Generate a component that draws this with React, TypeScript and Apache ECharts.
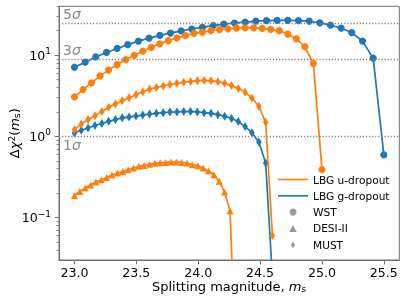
import React, { useEffect, useRef } from 'react';
import * as echarts from 'echarts';

// Splitting magnitudes (x) for each survey grid
const magWSTu = [23.000, 23.069, 23.138, 23.207, 23.276, 23.345, 23.414, 23.483, 23.552, 23.621, 23.690, 23.759, 23.828, 23.897, 23.966, 24.034, 24.103, 24.172, 24.241, 24.310, 24.379, 24.448, 24.517, 24.586, 24.655, 24.724, 24.793, 24.862, 24.931, 25.000];
const magWSTg = [23.000, 23.086, 23.172, 23.259, 23.345, 23.431, 23.517, 23.603, 23.690, 23.776, 23.862, 23.948, 24.034, 24.121, 24.207, 24.293, 24.379, 24.466, 24.552, 24.638, 24.724, 24.810, 24.897, 24.983, 25.069, 25.155, 25.241, 25.328, 25.414, 25.500];
const magDESIu = [23.000, 23.043, 23.087, 23.130, 23.173, 23.217, 23.260, 23.303, 23.347, 23.390, 23.433, 23.477, 23.520, 23.563, 23.607, 23.650, 23.693, 23.737, 23.780, 23.823, 23.867, 23.910, 23.953, 23.997, 24.040, 24.083, 24.127, 24.170, 24.213, 24.257, 24.300];
const magMUST = [23.000, 23.055, 23.110, 23.166, 23.221, 23.276, 23.331, 23.386, 23.441, 23.497, 23.552, 23.607, 23.662, 23.717, 23.772, 23.828, 23.883, 23.938, 23.993, 24.048, 24.103, 24.159, 24.214, 24.269, 24.324, 24.379, 24.434, 24.490, 24.545, 24.600];

// Delta chi^2 values
const chi2WSTu = [3.06, 3.77, 4.55, 5.55, 6.55, 7.66, 8.83, 9.97, 11.2, 12.5, 13.8, 15.1, 16.3, 17.4, 18.6, 19.2, 20.1, 20.7, 21.1, 21.5, 21.7, 21.7, 21.4, 20.8, 20.0, 18.2, 15.9, 12.7, 7.9, 0.39];
const chi2WSTg = [7.1, 8.2, 9.5, 10.8, 12.1, 13.5, 14.9, 16.2, 17.5, 18.7, 19.9, 21.0, 22.0, 23.1, 24.1, 24.9, 25.6, 26.2, 26.6, 26.9, 26.9, 26.7, 26.2, 25.0, 23.4, 21.6, 18.9, 14.9, 9.2, 0.59];
const chi2DESIu = [0.187, 0.210, 0.231, 0.252, 0.274, 0.292, 0.312, 0.334, 0.354, 0.370, 0.388, 0.407, 0.427, 0.439, 0.452, 0.465, 0.474, 0.478, 0.483, 0.483, 0.478, 0.470, 0.448, 0.436, 0.407, 0.378, 0.337, 0.279, 0.206, 0.121, 0.0025];
const chi2MUSTu = [1.21, 1.42, 1.61, 1.80, 2.03, 2.28, 2.51, 2.75, 3.0, 3.25, 3.55, 3.8, 4.0, 4.18, 4.35, 4.5, 4.65, 4.75, 4.85, 4.88, 4.85, 4.72, 4.5, 4.22, 3.9, 3.5, 2.97, 2.35, 1.49, 0.06];
const chi2MUSTg = [1.10, 1.19, 1.27, 1.36, 1.44, 1.53, 1.61, 1.69, 1.73, 1.78, 1.83, 1.88, 1.92, 1.96, 1.99, 2.0, 2.02, 2.02, 2.0, 1.96, 1.92, 1.85, 1.77, 1.66, 1.52, 1.32, 1.11, 0.85, 0.47, 0.018];

// Axis ticks
const xTicks = [23.0, 23.5, 24.0, 24.5, 25.0, 25.5];
const yMajorTicks = [0.1, 1, 10];
const yMinorTicks = [0.04, 0.05, 0.06, 0.07, 0.08, 0.09, 0.2, 0.3, 0.4, 0.5, 0.6, 0.7, 0.8, 0.9, 2, 3, 4, 5, 6, 7, 8, 9, 20, 30, 40];

// Significance levels
const sigmaLevels = [1, 9, 25];
const sigmaNames = ['1', '3', '5'];

// Legend entries
const legendLines = ['LBG u-dropout', 'LBG g-dropout'];
const legendMarkers = ['WST', 'DESI-II', 'MUST'];

const FONT = "'DejaVu Sans', sans-serif";
const ORANGE = '#ff7f0e';
const BLUE = '#1f77b4';
const GRAY = '#808080';
const SPINE = '#707070';

function pair(xs: number[], ys: number[]) {
  return xs.map((x, i) => [x, ys[i]]);
}

function dataSeries(name: string, xs: number[], ys: number[], color: string, symbol: string, symbolSize: any, z: number, extra: any = {}) {
  return {
    type: 'line',
    name,
    data: pair(xs, ys),
    xAxisIndex: 0,
    yAxisIndex: 0,
    symbol,
    symbolSize,
    showSymbol: true,
    showAllSymbol: true,
    clip: true,
    silent: true,
    z,
    itemStyle: { color, borderWidth: 0 },
    lineStyle: { color, width: 1.7 },
    emphasis: { disabled: true },
    ...extra,
  };
}

export default function App() {
  const ref = useRef<HTMLDivElement>(null);
  useEffect(() => {
    const chart = echarts.init(ref.current!, null, { renderer: 'svg' });
    const black = '#000';
    const supStyle = { fontSize: 9, fontFamily: FONT, color: black, padding: [0, 0, 8, 0] };
    const supNameStyle = { fontSize: 9, fontFamily: FONT, color: black, padding: [0, 0, 6, 0] };
    const subStyle = { fontSize: 9.5, fontFamily: FONT, color: black, padding: [4, 0, 0, 0] };
    const italStyle = { fontSize: 13, fontFamily: FONT, color: black, fontStyle: 'italic' };

    const markLine = {
      silent: true,
      symbol: ['none', 'none'],
      lineStyle: { color: GRAY, type: [1.2, 1.9], width: 1.3 },
      label: {
        show: true,
        position: 'insideStartTop',
        distance: [4, 2],
        formatter: (p: any) => `{n|${p.name}}{s|σ}`,
        rich: {
          n: { fontSize: 14, fontFamily: FONT, color: '#8a8a8a' },
          s: { fontSize: 14, fontFamily: FONT, color: '#8a8a8a', fontStyle: 'italic' },
        },
      },
      emphasis: { disabled: true },
      data: sigmaLevels.map((v, i) => ({
        yAxis: v,
        name: sigmaNames[i],
        label: i === 0 ? { position: 'insideStartBottom' } : {},
      })),
    };

    const series: any[] = [
      dataSeries('g WST', magWSTg, chi2WSTg, BLUE, 'circle', 7.2, 2, { markLine }),
      dataSeries('u WST', magWSTu, chi2WSTu, ORANGE, 'circle', 7.2, 3),
      dataSeries('u DESI-II', magDESIu, chi2DESIu, ORANGE, 'triangle', 7, 3),
      dataSeries('g MUST', magMUST, chi2MUSTg, BLUE, 'diamond', [5.5, 9], 2),
      dataSeries('u MUST', magMUST, chi2MUSTu, ORANGE, 'diamond', [5.5, 9], 3),
      { type: 'line', name: legendLines[0], data: [], itemStyle: { color: ORANGE }, lineStyle: { color: ORANGE } },
      { type: 'line', name: legendLines[1], data: [], itemStyle: { color: BLUE }, lineStyle: { color: BLUE } },
      { type: 'scatter', name: legendMarkers[0], data: [], itemStyle: { color: GRAY } },
      { type: 'scatter', name: legendMarkers[1], data: [], itemStyle: { color: GRAY } },
      { type: 'scatter', name: legendMarkers[2], data: [], itemStyle: { color: GRAY } },
    ];

    const lineIcon = 'path://M0,0H30V1.6H0Z';
    const markerIcons = ['circle', 'path://M4,0L8,7.5L0,7.5Z', 'path://M3,0L6,5L3,10L0,5Z'];

    const option: any = {
      animation: false,
      textStyle: { fontFamily: FONT },
      grid: {
        left: 59,
        right: 7.7,
        top: 6.3,
        bottom: 42,
        show: true,
        borderColor: SPINE,
        borderWidth: 1,
        backgroundColor: 'transparent',
        containLabel: false,
        outerBoundsMode: 'none',
      },
      legend: {
        orient: 'vertical',
        left: 273,
        top: 169,
        itemWidth: 30,
        itemHeight: 7,
        itemGap: 5.3,
        symbolKeepAspect: true,
        selectedMode: false,
        textStyle: { fontSize: 10.6, fontFamily: FONT, color: black },
        data: [
          ...legendLines.map((n) => ({ name: n, icon: lineIcon })),
          ...legendMarkers.map((n, i) => ({ name: n, icon: markerIcons[i] })),
        ],
      },
      xAxis: {
        type: 'value',
        min: 22.875,
        max: 25.625,
        axisLine: { show: true, lineStyle: { color: SPINE, width: 1 } },
        axisTick: { show: true, customValues: xTicks, length: 4.4, lineStyle: { color: SPINE, width: 1 } },
        axisLabel: {
          customValues: xTicks,
          formatter: (v: number) => v.toFixed(1),
          color: black,
          fontSize: 12.6,
          fontFamily: FONT,
          margin: 6,
        },
        splitLine: { show: false },
        name: 'Splitting magnitude, {i|m}{sub|s}',
        nameLocation: 'middle',
        nameGap: 19,
        nameMoveOverlap: false,
        nameTextStyle: { fontSize: 13, fontFamily: FONT, color: black, rich: { i: italStyle, sub: subStyle } },
      },
      yAxis: [
        {
          type: 'log',
          logBase: 10,
          min: 0.03,
          max: 40,
          position: 'left',
          axisLine: { show: true, lineStyle: { color: SPINE, width: 1 } },
          axisTick: { show: true, customValues: yMajorTicks, length: 4.4, lineStyle: { color: SPINE, width: 1 } },
          axisLabel: {
            customValues: yMajorTicks,
            formatter: (v: number) => {
              const e = Math.round(Math.log10(v));
              return `10{sup|${e < 0 ? '−' + -e : e}}`;
            },
            color: black,
            fontSize: 12.6,
            fontFamily: FONT,
            margin: 8,
            rich: { sup: supStyle },
          },
          splitLine: { show: false },
          name: 'Δ{i|χ}{sup|2}({i|m}{sub|s})',
          nameLocation: 'middle',
          nameGap: 37,
          nameMoveOverlap: false,
          nameTextStyle: { fontSize: 13, fontFamily: FONT, color: black, rich: { i: italStyle, sup: supNameStyle, sub: subStyle } },
        },
        {
          type: 'log',
          logBase: 10,
          min: 0.03,
          max: 40,
          position: 'left',
          offset: 0,
          axisLine: { show: false },
          axisTick: { show: true, customValues: yMinorTicks, length: 2.5, lineStyle: { color: SPINE, width: 0.8 } },
          axisLabel: { show: false },
          splitLine: { show: false },
        },
      ],
      series,
    };
    chart.setOption(option);
    return () => chart.dispose();
  }, []);
  return <div ref={ref} style={{ position: 'fixed', left: 0, top: 0, width: 407, height: 302 }} />;
}
